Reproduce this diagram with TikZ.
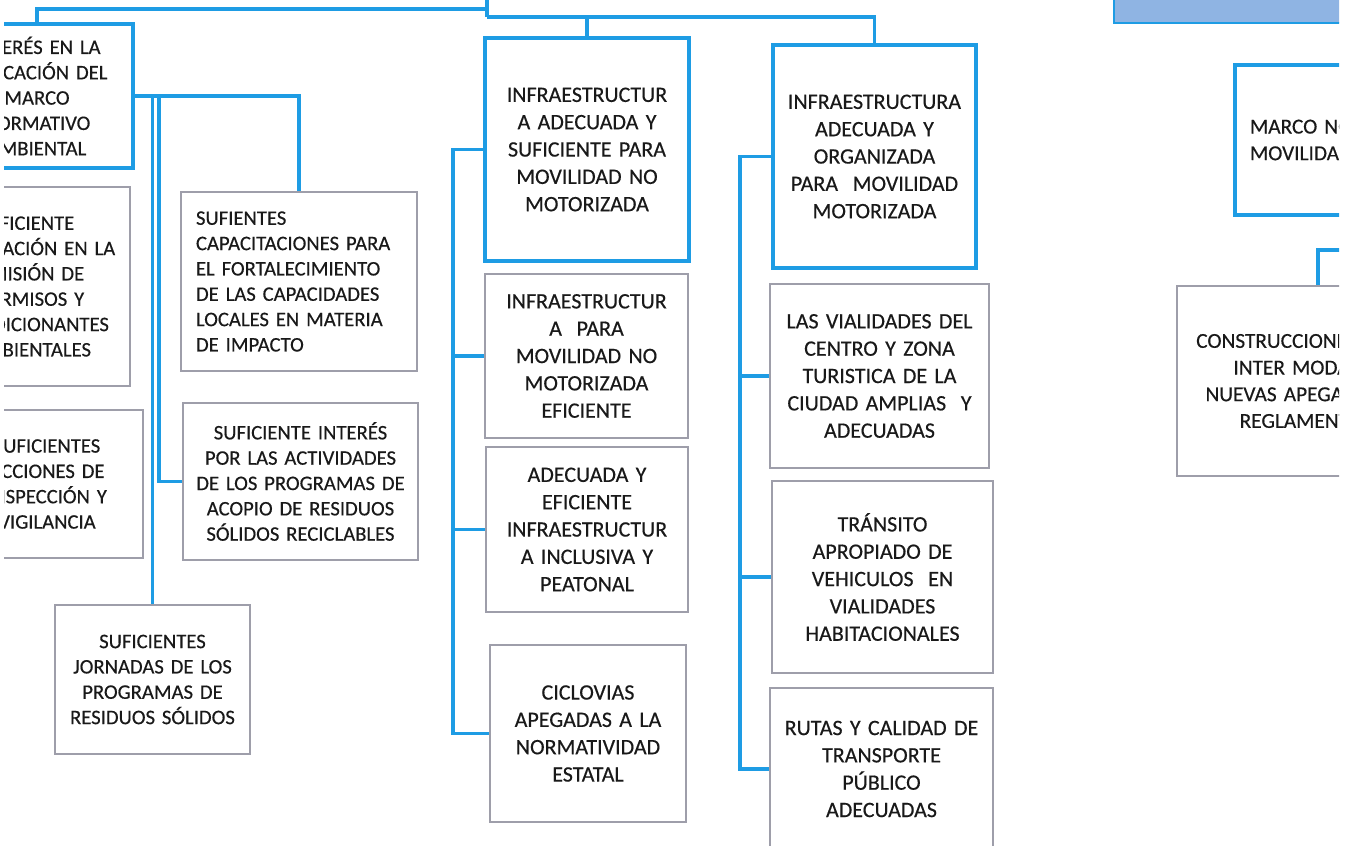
\documentclass[tikz,border=0pt]{standalone}
\usepackage{fontspec}
\setmainfont{Carlito}[FakeBold=0.4]
\definecolor{linkblue}{RGB}{30,156,228}
\definecolor{boxgray}{RGB}{158,158,170}
\definecolor{headfill}{RGB}{143,180,227}
\tikzstyle{link}=[draw=linkblue,line width=2.3pt]
\tikzstyle{bluebox}=[draw=linkblue,line width=2.6pt,inner sep=2pt,align=center,text=black!90]
\tikzstyle{graybox}=[draw=boxgray,line width=1.4pt,inner sep=2pt,align=center,text=black!90]
\tikzstyle{colA}=[font=\fontsize{15.5}{19}\selectfont]
\tikzstyle{colB}=[font=\fontsize{16.5}{20.5}\selectfont]
\tikzstyle{colD}=[font=\fontsize{16}{20}\selectfont]
\begin{document}
\begin{tikzpicture}[x=0.75pt,y=-0.75pt]
  \useasboundingbox (0,0) rectangle (1361,846);
  \clip (4,0) rectangle (1339,846);
  \node[bluebox,colA,minimum width=144pt,minimum height=108pt,text width=130pt] (A0) at (37,96)
    {INTERÉS EN LA\\APLICACIÓN DEL\\MARCO\\NORMATIVO\\AMBIENTAL};
  \node[graybox,colA,minimum width=147pt,minimum height=149.25pt,text width=130pt] (A1) at (32,286.5)
    {EFICIENTE\\AGILIZACIÓN EN LA\\EMISIÓN DE\\PERMISOS Y\\CONDICIONANTES\\AMBIENTALES};
  \node[graybox,colA,minimum width=144pt,minimum height=111pt,text width=130pt] (A2) at (47,484)
    {SUFICIENTES\\ACCIONES DE\\INSPECCIÓN Y\\VIGILANCIA};
  \node[graybox,colA,align=left,inner xsep=11.25pt,text width=154.5pt,minimum height=134.25pt] (A3) at (299,281.5)
    {SUFIENTES\\CAPACITACIONES PARA\\EL FORTALECIMIENTO\\DE LAS CAPACIDADES\\LOCALES EN MATERIA\\DE IMPACTO};
  \node[graybox,colA,minimum width=176.25pt,minimum height=117.75pt,text width=170pt] (A4) at (300.5,481.5)
    {SUFICIENTE INTERÉS\\POR LAS ACTIVIDADES\\DE LOS PROGRAMAS DE\\ACOPIO DE RESIDUOS\\SÓLIDOS RECICLABLES};
  \node[graybox,colA,minimum width=146.25pt,minimum height=111.75pt,text width=135pt] (A5) at (152.5,679.5)
    {SUFICIENTES\\JORNADAS DE LOS\\PROGRAMAS DE\\RESIDUOS SÓLIDOS};
  \node[bluebox,colB,minimum width=153pt,minimum height=167.25pt,text width=140pt] (B0) at (587,149.5)
    {INFRAESTRUCTUR\\A ADECUADA Y\\SUFICIENTE PARA\\MOVILIDAD NO\\MOTORIZADA};
  \node[graybox,colB,minimum width=152.25pt,minimum height=123pt,text width=140pt] (B1) at (586.5,356)
    {INFRAESTRUCTUR\\A \ PARA\\MOVILIDAD NO\\MOTORIZADA\\EFICIENTE};
  \node[graybox,colB,minimum width=151.5pt,minimum height=123.75pt,text width=140pt] (B2) at (587,529.5)
    {ADECUADA Y\\EFICIENTE\\INFRAESTRUCTUR\\A INCLUSIVA Y\\PEATONAL};
  \node[graybox,colB,minimum width=147pt,minimum height=132.75pt,text width=140pt] (B3) at (588,733.5)
    {CICLOVIAS\\APEGADAS A LA\\NORMATIVIDAD\\ESTATAL};
  \node[bluebox,colB,minimum width=152.25pt,minimum height=167.25pt,text width=140pt] (C0) at (874.5,156.5)
    {INFRAESTRUCTURA\\ADECUADA Y\\ORGANIZADA\\PARA \ MOVILIDAD\\MOTORIZADA};
  \node[graybox,colB,minimum width=164.25pt,minimum height=138pt,text width=155pt] (C1) at (879.5,376)
    {LAS VIALIDADES DEL\\CENTRO Y ZONA\\TURISTICA DE LA\\CIUDAD AMPLIAS \ Y\\ADECUADAS};
  \node[graybox,colB,minimum width=165.75pt,minimum height=144pt,text width=155pt] (C2) at (882.5,577)
    {TRÁNSITO\\APROPIADO DE\\VEHICULOS \ EN\\VIALIDADES\\HABITACIONALES};
  \node[graybox,colB,minimum width=167.25pt,minimum height=121.5pt,text width=160pt] (C3) at (881.5,769)
    {RUTAS Y CALIDAD DE\\TRANSPORTE\\PÚBLICO\\ADECUADAS};
  \node[draw=linkblue,line width=2pt,fill=headfill,minimum width=289.5pt,minimum height=62.25pt] (Dhead) at (1307,-18.5) {};
  \node[bluebox,colD,align=left,inner xsep=11.25pt,text width=150pt,minimum height=112.5pt] (D0) at (1350,140)
    {MARCO NORMATIVO\\MOVILIDAD};
  \node[graybox,colD,minimum width=193.5pt,minimum height=142.5pt,text width=180pt] (D1) at (1306,381)
    {CONSTRUCCIONES DE LA\\INTER MODALES\\NUEVAS APEGADAS AL\\REGLAMENTOS};

  \coordinate (root) at (487,-5);
  \coordinate (j0) at (487,9);
  \coordinate (j1) at (487,17);
  \draw[link] (root) -- (j1);
  \draw[link] (j0) -| (A0.north);
  \draw[link] (j1) -| (B0.north);
  \draw[link] (j1) -| (C0.north);

  \coordinate (aj) at (159,96);
  \draw[link] (A0.east) -| (A3.north);
  \draw[link] (A5.north |- A0.east) -- (A5.north);
  \draw[link] (aj) |- (A4.west);

  \coordinate (bj) at (453,149.5);
  \draw[link] (B0.west) -- (bj) |- (B3.west);
  \foreach \n in {B1,B2}
    \draw[link] (bj |- \n.west) -- (\n.west);

  \coordinate (cj) at (740,156.5);
  \draw[link] (C0.west) -- (cj) |- (C3.west);
  \foreach \n in {C1,C2}
    \draw[link] (cj |- \n.west) -- (\n.west);

  \coordinate (dr) at (1350,250);
  \coordinate (dj) at (1318,250);
  \draw[link] (dr) -- (dj) -- (dj |- D1.north);
\end{tikzpicture}
\end{document}
